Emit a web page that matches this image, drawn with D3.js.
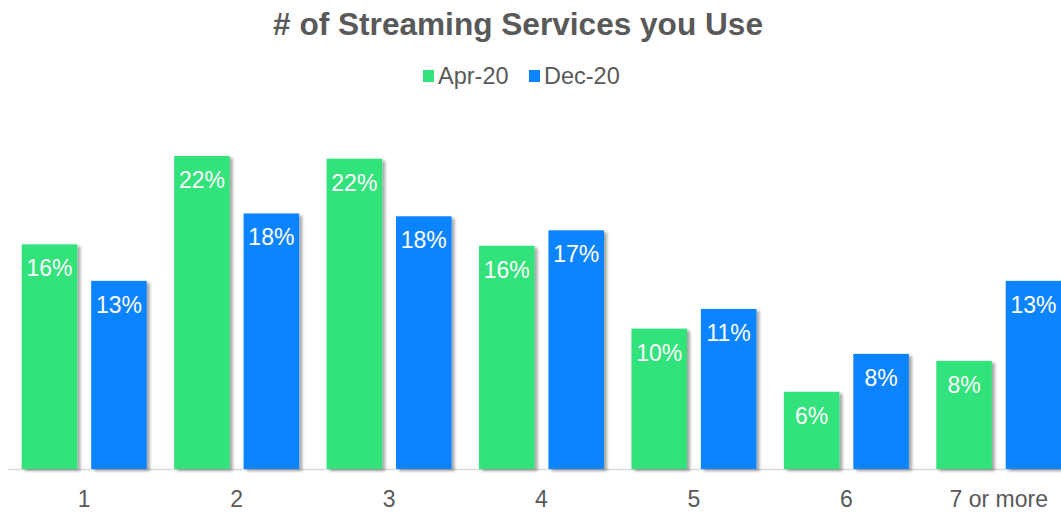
<!DOCTYPE html>
<html>
<head>
<meta charset="utf-8">
<script src="https://cdn.jsdelivr.net/npm/d3@7"></script>
<style>
  html, body { margin: 0; padding: 0; background: #fff; overflow: hidden; }
  svg { display: block; font-family: "Liberation Sans", Arial, sans-serif; }
</style>
</head>
<body>
<svg id="chart" width="1061" height="514"></svg>
<script>
const categories = ["1", "2", "3", "4", "5", "6", "7 or more"];
const seriesNames = ["Apr-20", "Dec-20"];
const apr20 = [16.0, 22.3, 22.1, 15.9, 10.0, 5.5, 7.7];
const dec20 = [13.4, 18.2, 18.0, 17.0, 11.4, 8.2, 13.4];
const colors = ["#33E27A", "#0A84FF"];

const svg = d3.select("#chart");

const defs = svg.append("defs");
const f = defs.append("filter").attr("id", "shadow")
  .attr("x", "-20%").attr("y", "-20%").attr("width", "150%").attr("height", "150%");
f.append("feDropShadow").attr("dx", 3).attr("dy", 2).attr("stdDeviation", 1.6)
  .attr("flood-color", "#000").attr("flood-opacity", 0.35);

const x0 = d3.scaleBand().domain(categories).range([8, 1075])
  .paddingInner(0.18).paddingOuter(0.09);
const x1 = d3.scaleBand().domain(seriesNames).range([0, x0.bandwidth()]).paddingInner(0.2);
const y = d3.scaleLinear().domain([0, 25]).range([469, 118]);

const data = categories.map((c, i) => ({
  cat: c,
  vals: [{ s: seriesNames[0], v: apr20[i], c: colors[0] },
         { s: seriesNames[1], v: dec20[i], c: colors[1] }]
}));

// Title
svg.append("text").attr("x", 518).attr("y", 35).attr("text-anchor", "middle")
  .attr("font-size", 31.6).attr("font-weight", "bold").attr("fill", "#595959")
  .text("# of Streaming Services you Use");

// Legend
const legendItems = [
  { name: seriesNames[0], color: colors[0], x: 423 },
  { name: seriesNames[1], color: colors[1], x: 529 }
];
const lg = svg.append("g");
legendItems.forEach(d => {
  lg.append("rect").attr("x", d.x).attr("y", 70).attr("width", 11).attr("height", 12).attr("fill", d.color);
  lg.append("text").attr("x", d.x + 15).attr("y", 84).attr("font-size", 23.5).attr("fill", "#595959").text(d.name);
});

// Axis
const xAxis = d3.axisBottom(x0).tickSize(0).tickPadding(22);
const ax = svg.append("g").attr("transform", "translate(0,469)").call(xAxis);
ax.select(".domain").attr("stroke", "#D9D9D9").attr("stroke-width", 1.5);
ax.selectAll("text").attr("font-size", 23).attr("fill", "#595959")
  .attr("font-family", "Liberation Sans, Arial, sans-serif");

// Bars
const groups = svg.append("g").selectAll("g").data(data).join("g")
  .attr("transform", d => `translate(${x0(d.cat)},0)`);

groups.selectAll("rect").data(d => d.vals).join("rect")
  .attr("x", d => x1(d.s))
  .attr("y", d => y(d.v))
  .attr("width", x1.bandwidth())
  .attr("height", d => y(0) - y(d.v))
  .attr("fill", d => d.c)
  .attr("filter", "url(#shadow)");

groups.selectAll("text.lbl").data(d => d.vals).join("text")
  .attr("class", "lbl")
  .attr("x", d => x1(d.s) + x1.bandwidth() / 2)
  .attr("y", d => y(d.v) + 32)
  .attr("text-anchor", "middle")
  .attr("font-size", 23)
  .attr("fill", "#FFFFFF")
  .text(d => Math.round(d.v) + "%");
</script>
</body>
</html>
